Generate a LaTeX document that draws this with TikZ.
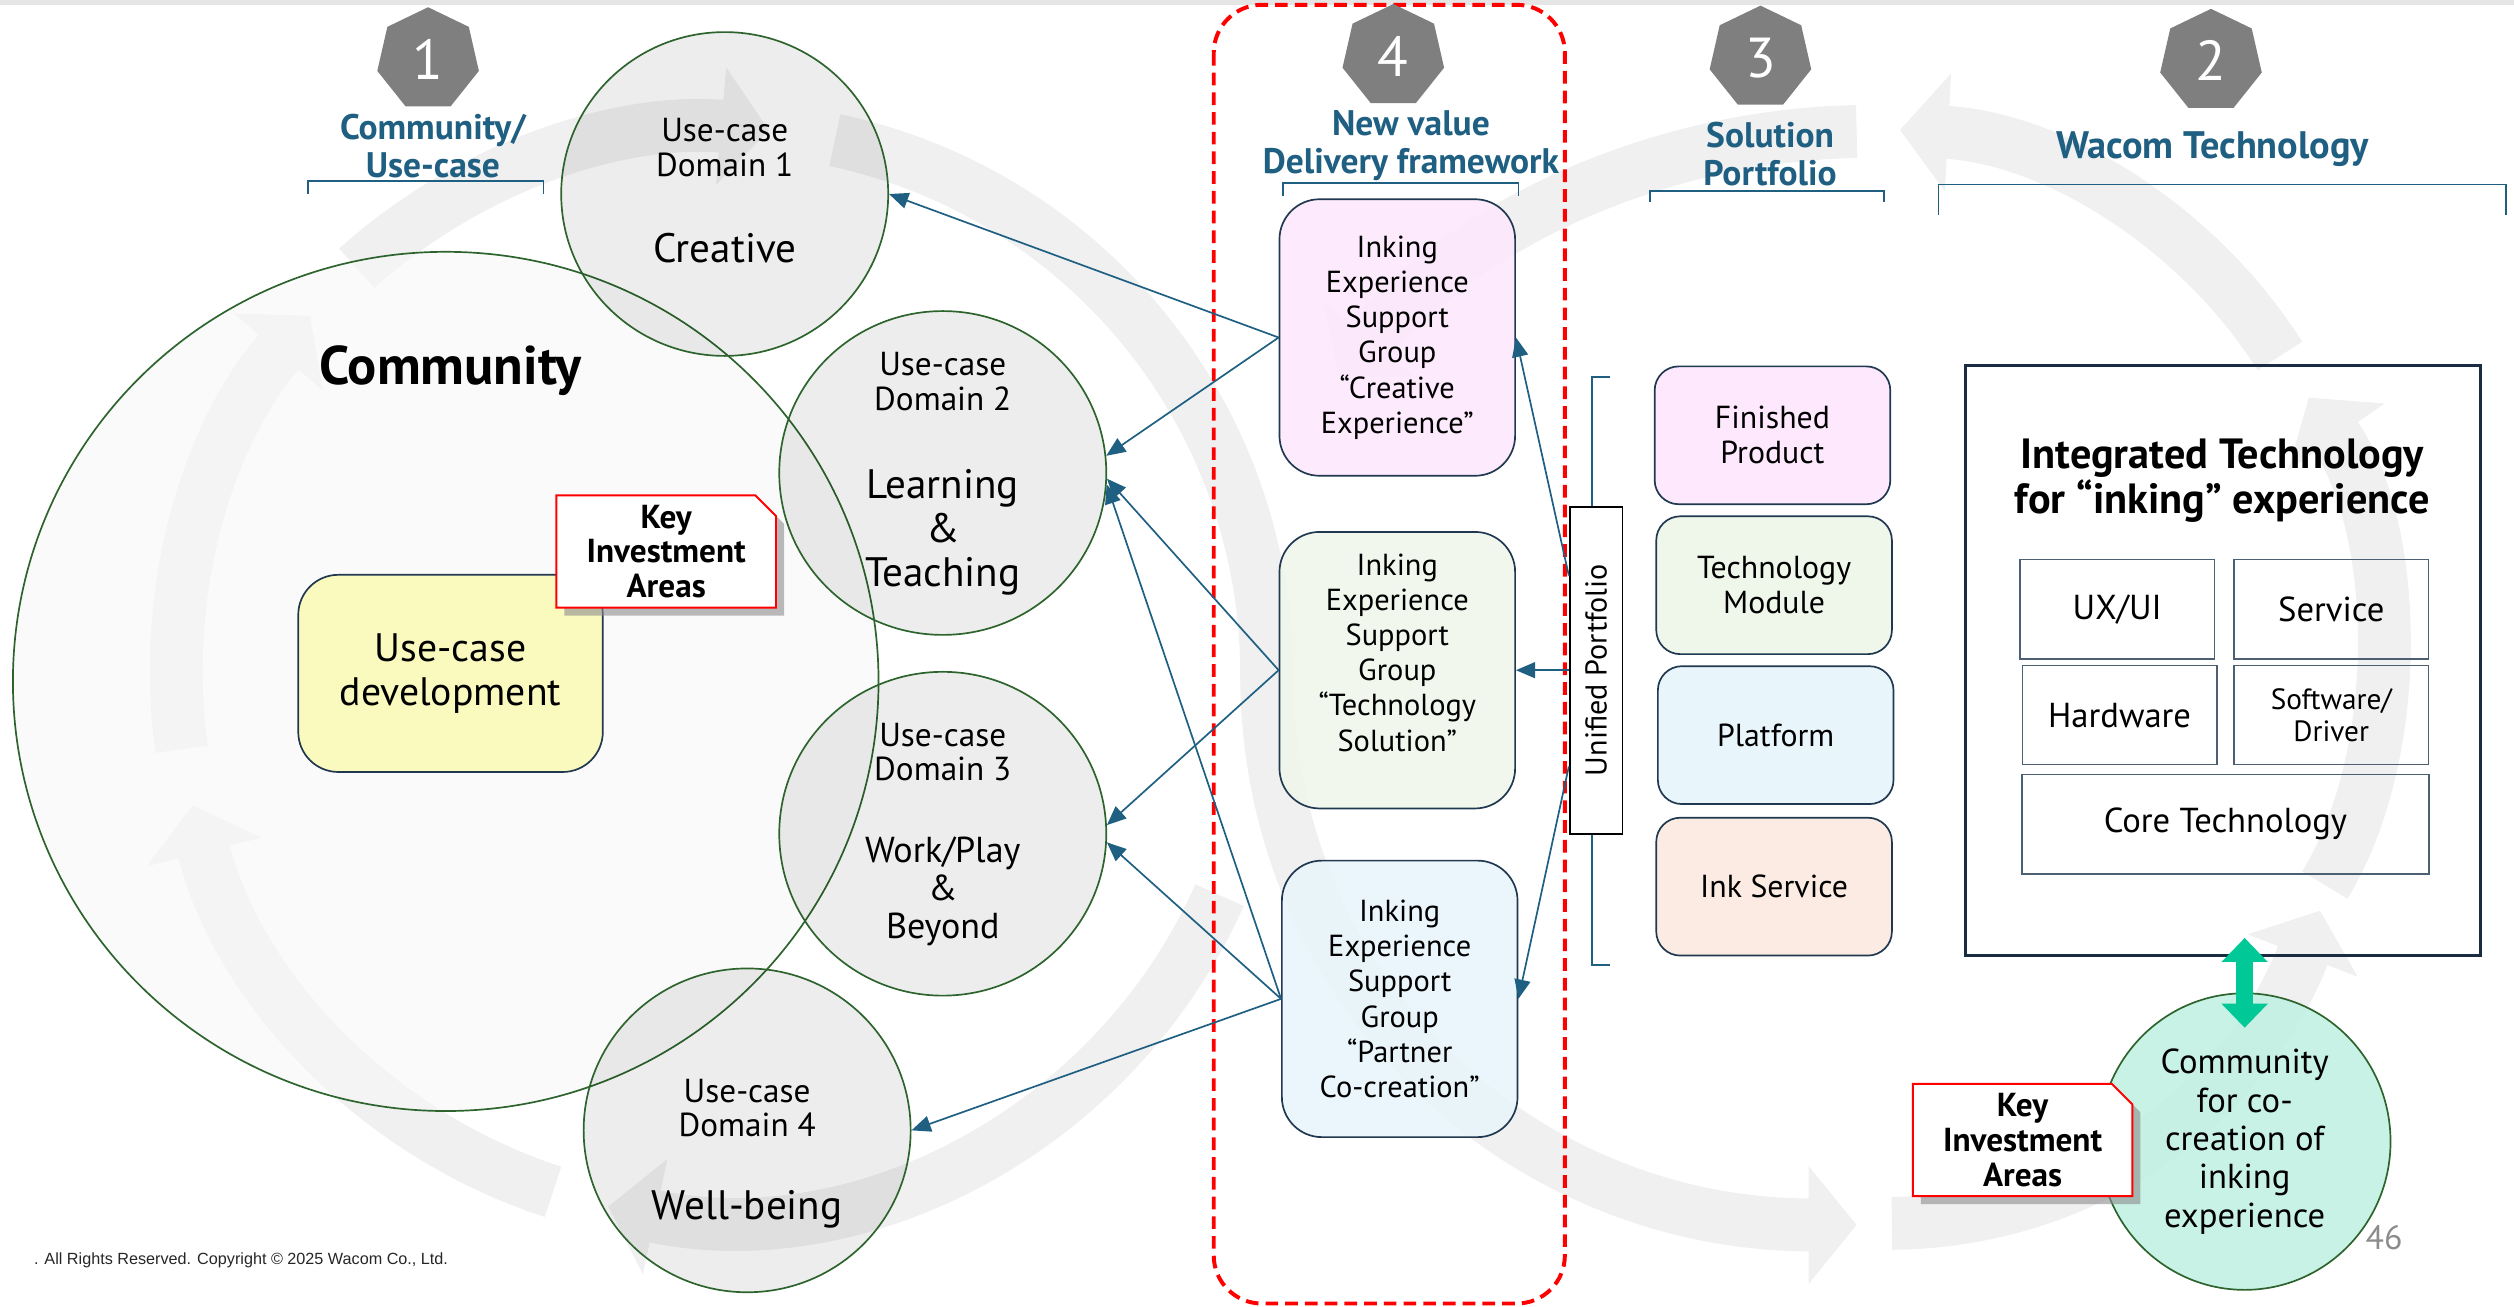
\documentclass[tikz,border=0pt]{standalone}
\usepackage{fontspec}
\setmainfont{PT Sans}
\newfontfamily\notefont{Liberation Sans}
\usepackage{tikz}
\usetikzlibrary{positioning}
\usetikzlibrary{shapes.geometric,shapes.misc}
\usetikzlibrary{arrows.meta,calc}
\usetikzlibrary{shadows}

\definecolor{headblue}{RGB}{31,95,130}
\definecolor{ringgreen}{RGB}{45,100,45}
\definecolor{boxline}{RGB}{32,56,80}
\definecolor{bandgray}{RGB}{240,240,240}
\definecolor{badgegray}{RGB}{127,127,127}
\definecolor{creativepink}{RGB}{253,232,253}
\definecolor{techgreen}{RGB}{239,246,234}
\definecolor{partnerblue}{RGB}{232,245,251}
\definecolor{inkpeach}{RGB}{252,235,226}
\definecolor{devyellow}{RGB}{250,250,190}
\definecolor{mint}{RGB}{192,240,226}
\definecolor{twingreen}{RGB}{0,200,150}

\tikzset{% shared looks of the chart
  flow band/.style={draw=bandgray, line width=0.66cm, -{Triangle[width=1.44cm,length=0.6cm]}},
  step badge/.style={regular polygon, regular polygon sides=7, minimum size=1.3cm, inner sep=0pt,
    fill=badgegray, text=white, font=\fontsize{20}{20}\selectfont},
  heading/.style={text=headblue, align=center, font=\bfseries\fontsize{12.6}{13.6}\selectfont},
  bracket line/.style={draw=headblue, line width=0.6pt},
  domain circle/.style={ellipse, draw=ringgreen, line width=0.6pt, fill=black, fill opacity=0.07,
    minimum width=4.08cm, minimum height=4.04cm},
  case text/.style={align=center, font=\fontsize{11.8}{12.3}\selectfont},
  area text/.style={align=center, font=\fontsize{14.6}{15.6}\selectfont},
  group box/.style={draw=boxline, line width=0.6pt, rounded corners=0.5cm, minimum width=2.94cm,
    minimum height=3.45cm, fill opacity=0.85, text opacity=1, align=center,
    font=\fontsize{10.8}{12.5}\selectfont},
  group text/.style={align=center, font=\fontsize{10.8}{12.5}\selectfont},
  solution box/.style={draw=boxline, line width=0.6pt, rounded corners=0.3cm, minimum width=2.94cm,
    minimum height=1.72cm, align=center, font=\fontsize{11.3}{12.5}\selectfont},
  tech cell/.style={draw=boxline!80, line width=0.5pt, minimum width=2.43cm, minimum height=1.24cm,
    align=center, font=\fontsize{12.3}{13}\selectfont},
  key box/.style={chamfered rectangle, chamfered rectangle corners=north east,
    chamfered rectangle xsep=0.14cm, draw=red, line width=0.7pt, fill=white,
    minimum width=2.74cm, minimum height=1.36cm, inner sep=0pt, align=center,
    font=\bfseries\fontsize{11.8}{12.4}\selectfont,
    drop shadow={shadow xshift=0.1cm, shadow yshift=-0.1cm, fill=black!45, opacity=0.6}},
  link arrow/.style={draw=headblue, line width=0.6pt, -{Triangle[length=0.24cm,width=0.2cm]}},
  twin arrow/.style={draw=twingreen, line width=0.22cm,
    {Triangle[width=0.56cm,length=0.3cm]}-{Triangle[width=0.56cm,length=0.3cm]}}
}

\begin{document}
\begin{tikzpicture}[x=0.02cm, y=-0.02cm]
\useasboundingbox (0,0) rectangle (1568,815);
\fill [black!10] (0,0) rectangle (1568,3);

% faint figure-eight of flow arrows
\coordinate (lc) at (450,420);
\draw [flow band] ($(lc)+(24:340)$) arc [start angle=24, end angle=102, radius=340];
\draw [flow band] ($(lc)+(108:340)$) arc [start angle=108, end angle=166, radius=340];
\draw [flow band] ($(lc)+(172:340)$) arc [start angle=172, end angle=221, radius=340];
\draw [flow band] ($(lc)+(228:340)$) arc [start angle=228, end angle=275, radius=340];
\draw [flow band] ($(lc)+(282:340)$) arc [start angle=282, end angle=360, radius=340]
  .. controls (790,620) and (950,764) .. (1158,764);
\draw [flow band] (1180,763) .. controls (1300,762) and (1400,690) .. (1447,568);
\draw [flow band] (1450,552) .. controls (1500,470) and (1497,330) .. (1440,248);
\draw [flow band] (1422,222) .. controls (1370,140) and (1280,86) .. (1185,81);
\draw [flow band] (1158,82) .. controls (1020,85) and (905,150) .. (835,235);

% community side
\node [ellipse, draw=ringgreen, line width=0.6pt, fill=black!3, fill opacity=0.6,
  minimum width=10.8cm, minimum height=10.72cm] (commring) at (278,425) {};
\node [font=\bfseries\fontsize{19.3}{22}\selectfont] (commlabel) at (281,231) {Community};

\node [domain circle] (d1) at (452,121) {};
\node [domain circle] (d2) at (588,295) {};
\node [domain circle] (d3) at (588,520) {};
\node [domain circle] (d4) at (466,705) {};

\node [case text] (d1case) at (452,92) {Use-case\\Domain 1};
\node [area text] (d1area) at (452,155) {Creative};
\node [case text] (d2case) at (588,238) {Use-case\\Domain 2};
\node [area text] (d2area) at (588,332) {Learning\\\&\\Teaching};
\node [case text] (d3case) at (588,469) {Use-case\\Domain 3};
\node [area text, font=\fontsize{12.8}{13.6}\selectfont] (d3area) at (588,556) {Work/Play\\\&\\Beyond};
\node [case text] (d4case) at (466,691) {Use-case\\Domain 4};
\node [area text] (d4area) at (466,754) {Well-being};

\node [draw=boxline, line width=0.6pt, fill=devyellow, rounded corners=0.5cm, minimum width=3.8cm,
  minimum height=2.46cm, align=center, font=\fontsize{14.1}{15.5}\selectfont] (dev) at (281,420)
  {Use-case\\development};
\node [key box] (key1) at (415.5,344) {Key\\Investment\\Areas};

% delivery framework column
\draw [red, line width=1.4pt, dash pattern=on 4.5pt off 2.5pt, rounded corners=0.6cm] (757,3) rectangle (976,813);

\node [step badge] (s1) at (267,37) {1};
\node [step badge] (s4) at (869,35) {4};
\node [step badge] (s3) at (1098,36) {3};
\node [step badge] (s2) at (1379,38) {2};

\node [heading] (h1) at (270,91) {Community/\\Use-case};
\node [heading] (h4) at (880,91) {New value\\Delivery framework};
\node [heading] (h3) at (1104,96) {Solution\\Portfolio};
\node [heading, font=\bfseries\fontsize{13.6}{13.6}\selectfont] (h2) at (1380,93) {Wacom Technology};
\draw [bracket line] (192,121) -- (192,113) -- (339,113) -- (339,121);
\draw [bracket line] (800,122) -- (800,114) -- (947,114) -- (947,122);
\draw [bracket line] (1029,126) -- (1029,119) -- (1175,119) -- (1175,126);
\draw [bracket line] (1209,134) -- (1209,115) -- (1563,115) -- (1563,134);

\node [group box, fill=creativepink] (ga) at (871.5,210.5)
  {Inking\\Experience\\Support\\Group\\“Creative\\Experience”};
\node [group box, fill=techgreen] (gb) at (871.5,418) {};
\node [group text] (gbtext) at (871.5,407)
  {Inking\\Experience\\Support\\Group\\“Technology\\Solution”};
\node [group box, fill=partnerblue] (gc) at (873,623)
  {Inking\\Experience\\Support\\Group\\“Partner\\Co-creation”};

\draw [link arrow] (ga.west) -- (d1.east);
\draw [link arrow] (ga.west) -- (d2.6);
\draw [link arrow] (gb.west) -- (d2.-2);
\draw [link arrow] (gb.west) -- (d3.3);
\draw [link arrow] (gc.west) -- (d2.-4);
\draw [link arrow] (gc.west) -- (d3.-3);
\draw [link arrow] (gc.west) -- (d4.east);

% unified portfolio
\draw [bracket line] (1004,235) -- (993,235) -- (993,602) -- (1004,602);
\node [draw=black, fill=white, line width=0.6pt, minimum width=0.66cm, minimum height=4.08cm,
  inner sep=0pt] (up) at (995.5,418) {};
\node [rotate=90, font=\fontsize{10.7}{12}\selectfont] (uplabel) at (up) {Unified Portfolio};
\draw [link arrow] (up.west) -- (gb.east);
\draw [link arrow] ($(up.west)+(0,-59)$) -- (ga.east);
\draw [link arrow] ($(up.west)+(0,60)$) -- (gc.east);

\node [solution box, fill=creativepink] (fp) at (1105.5,271.5) {Finished\\Product};
\node [solution box, fill=techgreen] (tm) at (1106.5,365) {Technology\\Module};
\node [solution box, fill=partnerblue] (pf) at (1107.5,458.5) {Platform};
\node [solution box, fill=inkpeach] (is) at (1106.5,553) {Ink Service};

% wacom technology
\node [draw=boxline!80!black, line width=1.1pt, minimum width=6.42cm, minimum height=7.36cm] (integ) at (1386.5,412) {};
\node [align=center, font=\bfseries\fontsize{15}{15.9}\selectfont] (integtitle) at (1386,300)
  {Integrated Technology\\for “inking” experience};
\node [tech cell] (ux) at (1320.5,380) {UX/UI};
\node [tech cell] (sv) at (1454,380) {Service};
\node [tech cell] (hw) at (1322,446) {Hardware};
\node [tech cell, font=\fontsize{10.4}{11.3}\selectfont] (sw) at (1454,446) {Software/\\Driver};
\node [tech cell, minimum width=5.08cm] (core) at (1388,514) {Core Technology};

\node [ellipse, draw=ringgreen, line width=0.6pt, fill=mint, fill opacity=0.85, text opacity=1,
  minimum width=3.64cm, minimum height=3.7cm, align=center, font=\fontsize{12.3}{13.6}\selectfont]
  (cc) at (1400,712) {Community\\for co-\\creation of\\inking\\experience};
\draw [twin arrow] ($(cc.north)+(0,-34)$) -- ($(cc.north)+(0,22)$);
\node [key box] (key2) at (1261.5,711) {Key\\Investment\\Areas};

\node [text=black!45, font=\fontsize{12}{12}\selectfont] (pageno) at (1487,772) {46};
\node [anchor=west, text=black!85, font=\notefont\fontsize{5.75}{6.5}\selectfont] (rights) at (15,786)
  {. All Rights Reserved. Copyright © 2025 Wacom Co., Ltd.};
\end{tikzpicture}
\end{document}
